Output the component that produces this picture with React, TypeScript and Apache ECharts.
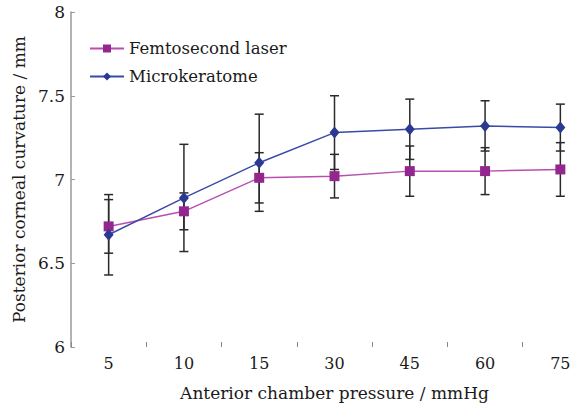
import React, { useEffect, useRef } from "react";
import * as echarts from "echarts";

const categories = ["5", "10", "15", "30", "45", "60", "75"];
const femtoMean = [6.72, 6.81, 7.01, 7.02, 7.05, 7.05, 7.06];
const femtoSD = [0.16, 0.11, 0.15, 0.13, 0.15, 0.14, 0.16];
const microMean = [6.67, 6.89, 7.1, 7.28, 7.3, 7.32, 7.31];
const microSD = [0.24, 0.32, 0.29, 0.22, 0.18, 0.15, 0.14];

const FONT = "DejaVu Serif";

function errData(mean: number[], sd: number[]) {
  return mean.map((m, i) => [i, m - sd[i], m + sd[i]]);
}

function renderErr(params: any, api: any) {
  const x = api.value(0);
  const lo = api.coord([x, api.value(1)]);
  const hi = api.coord([x, api.value(2)]);
  const hw = 4.5;
  const style = { stroke: "#2a2a2a", lineWidth: 1.5 };
  return {
    type: "group",
    children: [
      { type: "line", shape: { x1: lo[0], y1: lo[1], x2: hi[0], y2: hi[1] }, style },
      { type: "line", shape: { x1: lo[0] - hw, y1: lo[1], x2: lo[0] + hw, y2: lo[1] }, style },
      { type: "line", shape: { x1: hi[0] - hw, y1: hi[1], x2: hi[0] + hw, y2: hi[1] }, style },
    ],
  };
}

export default function App() {
  const ref = useRef<HTMLDivElement>(null);
  useEffect(() => {
    if (!ref.current) return;
    const chart = echarts.init(ref.current, undefined, { renderer: "svg" });
    chart.setOption({
      animation: false,
      backgroundColor: "#ffffff",
      textStyle: { fontFamily: FONT },
      grid: { left: 71, top: 12, bottom: 57, right: -16, outerBoundsMode: "none", containLabel: false },
      legend: {
        left: 84,
        top: 35,
        orient: "vertical",
        itemWidth: 34,
        itemHeight: 10,
        itemGap: 11,
        textStyle: { fontFamily: FONT, fontSize: 16.5, color: "#1a1a1a" },
        data: ["Femtosecond laser", "Microkeratome"],
      },
      xAxis: {
        type: "category",
        data: categories,
        boundaryGap: true,
        axisLine: { show: false },
        axisTick: { show: true, inside: true, length: 5, lineStyle: { color: "#888" } },
        axisLabel: { fontFamily: FONT, fontSize: 16, color: "#1a1a1a", margin: 8 },
        name: "Anterior chamber pressure / mmHg",
        nameLocation: "middle",
        nameGap: 37,
        nameTextStyle: { fontFamily: FONT, fontSize: 17, color: "#1a1a1a" },
        splitLine: { show: false },
      },
      yAxis: {
        type: "value",
        min: 6,
        max: 8,
        interval: 0.5,
        axisLine: { show: true, lineStyle: { color: "#9a9a9a", width: 1.5 } },
        axisTick: { show: true, inside: true, length: 4, lineStyle: { color: "#9a9a9a" } },
        axisLabel: { fontFamily: FONT, fontSize: 17, color: "#1a1a1a", margin: 6 },
        splitLine: { show: false },
        name: "Posterior corneal curvature / mm",
        nameLocation: "middle",
        nameGap: 44,
        nameTextStyle: { fontFamily: FONT, fontSize: 17, color: "#1a1a1a" },
      },
      series: [
        {
          type: "custom",
          name: "errF",
          renderItem: renderErr,
          data: errData(femtoMean, femtoSD),
          z: 1,
          silent: true,
        },
        {
          type: "custom",
          name: "errM",
          renderItem: renderErr,
          data: errData(microMean, microSD),
          z: 1,
          silent: true,
        },
        {
          type: "line",
          name: "Femtosecond laser",
          data: femtoMean,
          symbol: "rect",
          symbolSize: 10,
          itemStyle: { color: "#93278f" },
          lineStyle: { color: "#b84fb0", width: 1.5 },
          z: 3,
        },
        {
          type: "line",
          name: "Microkeratome",
          data: microMean,
          symbol: "diamond",
          symbolSize: [10, 12],
          itemStyle: { color: "#2b3990" },
          lineStyle: { color: "#3a4aa8", width: 1.5 },
          z: 4,
        },
      ],
    });
    return () => chart.dispose();
  }, []);
  return (
    <div
      ref={ref}
      style={{ position: "fixed", left: 0, top: 0, width: 582, height: 404, background: "#fff" }}
    />
  );
}
